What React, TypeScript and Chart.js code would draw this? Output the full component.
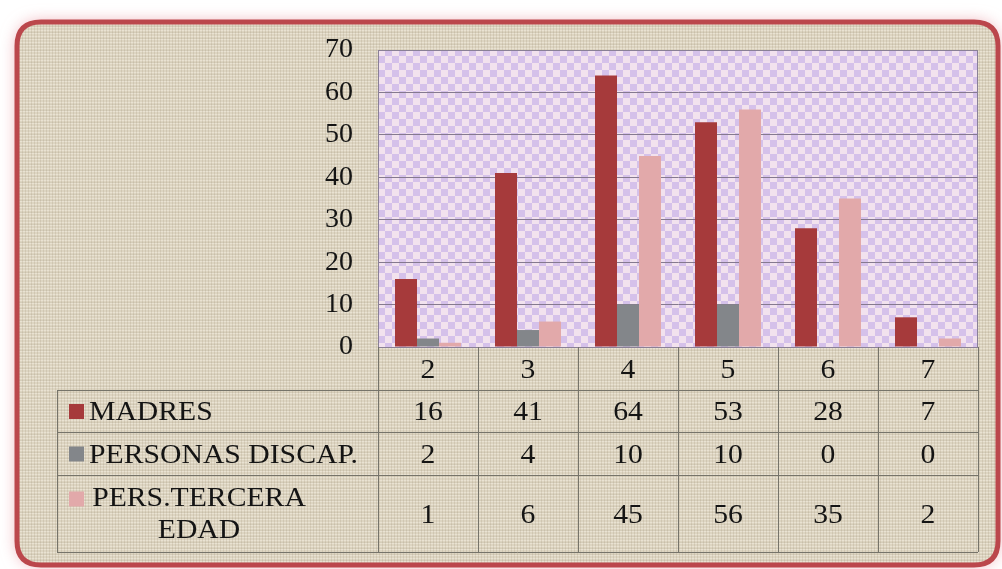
import React, { useEffect, useRef } from "react";
import { Chart, registerables } from "chart.js";

Chart.register(...registerables);

const categories = ["2", "3", "4", "5", "6", "7"];
const madres = [16, 41, 64, 53, 28, 7];
const discap = [2, 4, 10, 10, 0, 0];
const terceraEdad = [1, 6, 45, 56, 35, 2];
const seriesNames = ["MADRES", "PERSONAS DISCAP.", "PERS.TERCERA|EDAD"];
const seriesColors = ["#a63a3b", "#83868a", "#e2a9aa"];
const yTicks = [0, 10, 20, 30, 40, 50, 60, 70];

const SERIF = "'Liberation Serif', 'Times New Roman', serif";

function makeBurlap(): CanvasPattern | string {
  const c = document.createElement("canvas");
  c.width = 6;
  c.height = 6;
  const g = c.getContext("2d");
  if (!g) return "#ddd5c2";
  g.fillStyle = "#ddd5c2";
  g.fillRect(0, 0, 6, 6);
  g.fillStyle = "rgba(255,252,240,0.35)";
  g.fillRect(0, 0, 6, 1);
  g.fillRect(0, 3, 6, 1);
  g.fillStyle = "rgba(140,125,95,0.16)";
  g.fillRect(1, 0, 1, 6);
  g.fillRect(4, 0, 1, 6);
  g.fillStyle = "rgba(130,115,90,0.08)";
  g.fillRect(0, 2, 6, 1);
  const p = g.createPattern(c, "repeat");
  return p || "#ddd5c2";
}

function makeChecker(): CanvasPattern | string {
  const s = 7;
  const c = document.createElement("canvas");
  c.width = s * 2;
  c.height = s * 2;
  const g = c.getContext("2d");
  if (!g) return "#e6d4ec";
  g.fillStyle = "#f2e2ee";
  g.fillRect(0, 0, s * 2, s * 2);
  g.fillStyle = "#d5c1ea";
  g.fillRect(0, 0, s, s);
  g.fillRect(s, s, s, s);
  const p = g.createPattern(c, "repeat");
  return p || "#e6d4ec";
}

function roundRect(ctx: CanvasRenderingContext2D, x: number, y: number, w: number, h: number, r: number) {
  ctx.beginPath();
  ctx.moveTo(x + r, y);
  ctx.lineTo(x + w - r, y);
  ctx.quadraticCurveTo(x + w, y, x + w, y + r);
  ctx.lineTo(x + w, y + h - r);
  ctx.quadraticCurveTo(x + w, y + h, x + w - r, y + h);
  ctx.lineTo(x + r, y + h);
  ctx.quadraticCurveTo(x, y + h, x, y + h - r);
  ctx.lineTo(x, y + r);
  ctx.quadraticCurveTo(x, y, x + r, y);
  ctx.closePath();
}

function stretchedText(ctx: CanvasRenderingContext2D, text: string, x: number, y: number, align: CanvasTextAlign) {
  ctx.save();
  ctx.translate(x, y);
  ctx.scale(1.1, 1);
  ctx.textAlign = align;
  ctx.fillText(text, 0, 0);
  ctx.restore();
}

export default function App() {
  const ref = useRef<HTMLCanvasElement>(null);

  useEffect(() => {
    document.body.style.margin = "0";
    const canvas = ref.current;
    if (!canvas) return;
    const burlap = makeBurlap();
    const checker = makeChecker();

    const bgPlugin = {
      id: "bgPlugin",
      beforeDraw(chart: any) {
        const ctx: CanvasRenderingContext2D = chart.ctx;
        const { left, right, top, bottom } = chart.chartArea;
        ctx.save();
        ctx.fillStyle = "#ffffff";
        ctx.fillRect(0, 0, chart.width, chart.height);
        roundRect(ctx, 17, 22, 981, 543, 24);
        ctx.shadowColor = "rgba(225,110,125,0.6)";
        ctx.shadowBlur = 16;
        ctx.fillStyle = burlap as any;
        ctx.fill();
        ctx.shadowBlur = 0;
        ctx.shadowColor = "transparent";
        ctx.lineWidth = 5;
        ctx.strokeStyle = "#bb474c";
        ctx.stroke();
        ctx.fillStyle = checker as any;
        ctx.fillRect(left, top, right - left, bottom - top);
        ctx.restore();
      },
      afterDraw(chart: any) {
        const ctx: CanvasRenderingContext2D = chart.ctx;
        const xs = chart.scales.x;
        const { left, right, top, bottom } = chart.chartArea;
        const n = categories.length;
        const colW = (right - left) / n;
        const tableLeft = 57;
        const rowLines = [bottom, 390, 432, 475, 552];
        ctx.save();
        ctx.strokeStyle = "#8a8096";
        ctx.lineWidth = 1;
        ctx.strokeRect(left + 0.5, top + 0.5, right - left - 1, bottom - top);
        ctx.strokeStyle = "#76746a";
        ctx.beginPath();
        for (let i = 1; i < rowLines.length; i++) {
          ctx.moveTo(tableLeft, rowLines[i] + 0.5);
          ctx.lineTo(right, rowLines[i] + 0.5);
        }
        for (let i = 0; i <= n; i++) {
          const x = Math.round(left + i * colW) + 0.5;
          ctx.moveTo(x, bottom);
          ctx.lineTo(x, rowLines[4]);
        }
        ctx.moveTo(tableLeft + 0.5, rowLines[1]);
        ctx.lineTo(tableLeft + 0.5, rowLines[4]);
        ctx.stroke();

        ctx.fillStyle = "#141414";
        ctx.font = `27px ${SERIF}`;
        ctx.textBaseline = "middle";
        categories.forEach((c, i) => {
          const cx = xs.getPixelForValue(i);
          stretchedText(ctx, c, cx, (rowLines[0] + rowLines[1]) / 2 + 2, "center");
        });
        const allSeries = [madres, discap, terceraEdad];
        allSeries.forEach((vals, si) => {
          const y0 = rowLines[si + 1];
          const y1 = rowLines[si + 2];
          const cy = (y0 + y1) / 2 + 2;
          vals.forEach((v, i) => {
            const cx = xs.getPixelForValue(i);
            stretchedText(ctx, String(v), cx, cy, "center");
          });
          const parts = seriesNames[si].split("|");
          ctx.fillStyle = seriesColors[si];
          if (parts.length === 1) {
            ctx.fillRect(69, cy - 9, 15, 15);
            ctx.fillStyle = "#141414";
            stretchedText(ctx, parts[0], 89, cy, "left");
          } else {
            ctx.fillRect(69, cy - 24, 15, 15);
            ctx.fillStyle = "#141414";
            stretchedText(ctx, parts[0], 199, cy - 17, "center");
            stretchedText(ctx, parts[1], 199, cy + 15, "center");
          }
        });
        ctx.restore();
      },
    };

    const chart = new Chart(canvas, {
      type: "bar",
      data: {
        labels: categories,
        datasets: [
          { label: "MADRES", data: madres, backgroundColor: seriesColors[0] },
          { label: "PERSONAS DISCAP.", data: discap, backgroundColor: seriesColors[1] },
          { label: "PERS.TERCERA EDAD", data: terceraEdad, backgroundColor: seriesColors[2] },
        ],
      },
      options: {
        animation: false,
        responsive: false,
        maintainAspectRatio: false,
        layout: { padding: { left: 0, top: 50, right: 24, bottom: 222 } },
        datasets: { bar: { categoryPercentage: 0.66, barPercentage: 1.0 } },
        plugins: { legend: { display: false }, tooltip: { enabled: false } },
        scales: {
          x: { display: false },
          y: {
            min: 0,
            max: 70,
            afterFit: (s: any) => {
              s.width = 378;
            },
            afterBuildTicks: (s: any) => {
              s.ticks = yTicks.map((v) => ({ value: v }));
            },
            ticks: {
              padding: 25,
              color: "#141414",
              font: { family: SERIF, size: 28 },
            },
            grid: { color: "#85798f", drawTicks: false, lineWidth: 1 },
            border: { color: "#85798f" },
          },
        },
      },
      plugins: [bgPlugin],
    });
    return () => chart.destroy();
  }, []);

  return (
    <div style={{ width: 1002, height: 569 }}>
      <canvas ref={ref} width={1002} height={569} style={{ display: "block" }} />
    </div>
  );
}
